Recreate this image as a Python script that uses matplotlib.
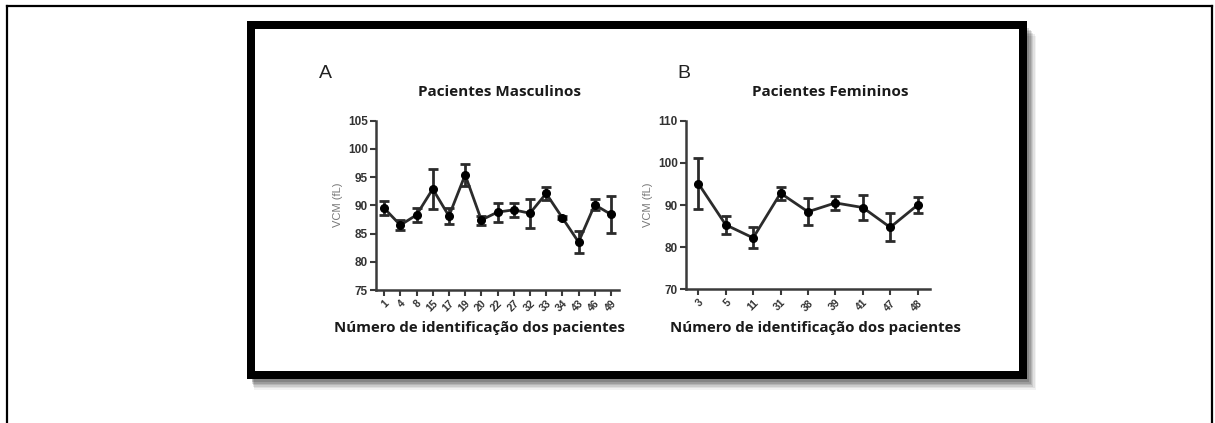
import matplotlib
matplotlib.use("Agg")
import matplotlib.pyplot as plt
from matplotlib.patches import Rectangle
from matplotlib.lines import Line2D

W, H = 1215, 423

male_ids = ["1", "4", "8", "15", "17", "19", "20", "22", "27", "32", "33", "34", "43", "46", "49"]
male_mean = [89.5, 86.5, 88.3, 92.9, 88.1, 95.4, 87.4, 88.8, 89.2, 88.6, 92.1, 87.8, 83.5, 90.1, 88.4]
male_err = [1.2, 0.9, 1.3, 3.6, 1.4, 1.9, 0.8, 1.7, 1.2, 2.6, 1.2, 0.3, 1.9, 1.0, 3.3]

female_ids = ["3", "5", "11", "31", "38", "39", "41", "47", "48"]
female_mean = [95.1, 85.3, 82.2, 92.8, 88.4, 90.5, 89.4, 84.7, 90.0]
female_err = [6.0, 2.2, 2.5, 1.5, 3.2, 1.7, 3.0, 3.3, 2.0]


def px(x, y):
    # pixel coords (top-left origin) -> figure fraction
    return x / W, 1 - y / H


fig = plt.figure(figsize=(W / 100, H / 100), dpi=100)

# page border of the document
fig.add_artist(Line2D([7 / W, 1212 / W], [1 - 6 / H, 1 - 6 / H], color="black", lw=1.6))
fig.add_artist(Line2D([7 / W, 7 / W], [0, 1 - 6 / H], color="black", lw=1.6))
fig.add_artist(Line2D([1212 / W, 1212 / W], [0, 1 - 6 / H], color="black", lw=1.6))

# soft shadow of the image frame
for i, a in enumerate([0.05, 0.07, 0.09, 0.11, 0.13, 0.15]):
    off = 11 - i * 1.6
    x0, y0 = px(251 + off * 0.3, 379 + off)
    x1, y1 = px(1027 + off * 0.8, 25 + off)
    fig.add_artist(Rectangle((x0, y0), x1 - x0, y1 - y0, facecolor="black",
                             edgecolor="none", alpha=a, zorder=0))
x0, y0 = px(247, 379)
x1, y1 = px(1027, 21)
fig.add_artist(Rectangle((x0, y0), x1 - x0, y1 - y0, facecolor="white",
                         edgecolor="none", zorder=1))
x0, y0 = px(251, 375)
x1, y1 = px(1023, 25)
fig.add_artist(Rectangle((x0, y0), x1 - x0, y1 - y0, facecolor="none",
                         edgecolor="black", lw=8 * 0.72, zorder=2))

tick_font = dict(family="Liberation Sans", weight="bold", color="#333333")


def panel(rect, ids, mean, err, ylim, yticks, pad):
    ax = fig.add_axes(rect, zorder=3)
    ax.patch.set_alpha(0)
    x = list(range(len(ids)))
    ax.errorbar(x, mean, yerr=err, color="#2b2b2b", lw=2, marker="o", ms=5.5,
                mfc="black", mec="black", capsize=3.5, capthick=2, elinewidth=2)
    ax.set_xlim(-pad, len(ids) - 1 + pad)
    ax.set_ylim(*ylim)
    ax.set_yticks(yticks)
    ax.set_yticklabels([str(t) for t in yticks], fontsize=8.5, **tick_font)
    ax.set_xticks(x)
    ax.set_xticklabels(ids, rotation=45, ha="right", va="top", fontsize=7.5,
                       rotation_mode="anchor", **tick_font)
    for s in ["top", "right"]:
        ax.spines[s].set_visible(False)
    for s in ["left", "bottom"]:
        ax.spines[s].set_linewidth(1.8)
        ax.spines[s].set_color("#3a3a3a")
    ax.tick_params(direction="out", length=4, width=1.5, color="#3a3a3a", pad=2)
    return ax


axA = panel([0.3095, 0.3144, 0.2, 0.4003], male_ids, male_mean, male_err,
            (75, 105), [75, 80, 85, 90, 95, 100, 105], 0.5)
axB = panel([0.5646, 0.3160, 0.2008, 0.3987], female_ids, female_mean, female_err,
            (70, 110), [70, 80, 90, 100, 110], 0.45)

title_font = dict(family="Open Sans", weight="bold", color="#1a1a1a", zorder=4)
fig.text(*px(500, 92), "Pacientes Masculinos", fontsize=11, ha="center", va="center", **title_font)
fig.text(*px(830, 92), "Pacientes Femininos", fontsize=11, ha="center", va="center", **title_font)
fig.text(*px(479, 328), "Número de identificação dos pacientes", fontsize=10.8,
         ha="center", va="center", **title_font)
fig.text(*px(815, 328), "Número de identificação dos pacientes", fontsize=10.8,
         ha="center", va="center", **title_font)

fig.text(*px(325, 73), "A", fontsize=14, ha="center", va="center",
         family="Liberation Sans", color="#222222", zorder=4)
fig.text(*px(684, 73), "B", fontsize=14, ha="center", va="center",
         family="Liberation Sans", color="#222222", zorder=4)

fig.text(*px(338, 205), "VCM (fL)", fontsize=8, rotation=90, ha="center", va="center",
         family="Liberation Sans", color="#777777", zorder=4)
fig.text(*px(648, 205), "VCM (fL)", fontsize=8, rotation=90, ha="center", va="center",
         family="Liberation Sans", color="#777777", zorder=4)

fig.savefig("out.png", dpi=100, facecolor="white")
